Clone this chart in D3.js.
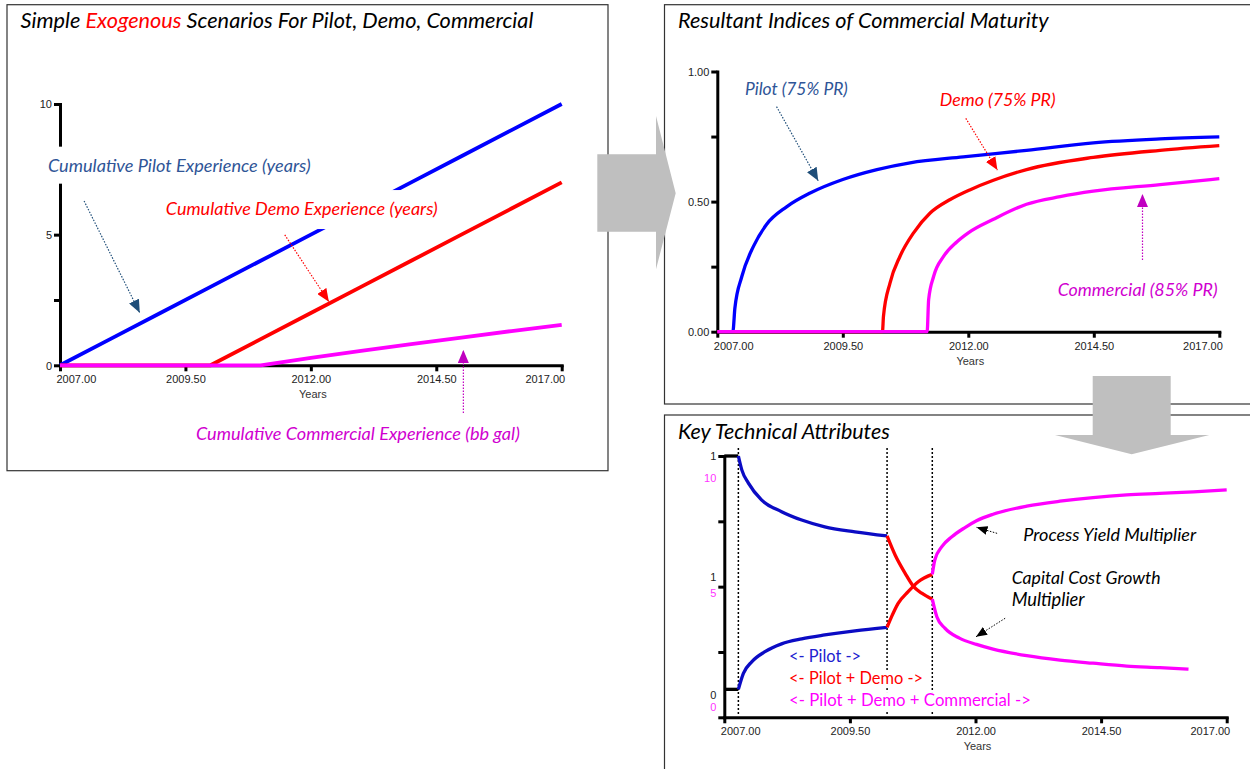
<!DOCTYPE html>
<html><head><meta charset="utf-8">
<script src="https://cdn.jsdelivr.net/npm/d3@7/dist/d3.min.js"></script>
<style>body{margin:0;background:#fff}svg{display:block}</style>
</head><body>
<svg id="c" width="1250" height="769"></svg>
<script>
// ================= DATA =================
const xTicks = [2007, 2009.5, 2012, 2014.5, 2017];
const xTickLabels = ["2007.00", "2009.50", "2012.00", "2014.50", "2017.00"];
const xAxisTitle = "Years";

// Panel 1: cumulative experience
const p1PilotYears = [2007, 2008, 2009, 2010, 2011, 2012, 2013, 2014, 2015, 2016, 2017];
const p1PilotVals  = [0, 1, 2, 3, 4, 5, 6, 7, 8, 9, 10];
const p1DemoYears  = [2007, 2010, 2011, 2012, 2013, 2014, 2015, 2016, 2017];
const p1DemoVals   = [0, 0, 1, 2, 3, 4, 5, 6, 7];
const p1CommYears  = [2007, 2011, 2012, 2013, 2014, 2015, 2016, 2017];
const p1CommVals   = [0, 0, 0.28, 0.55, 0.81, 1.06, 1.31, 1.55];
const p1YTicks = [0, 2.5, 5, 7.5, 10];
const p1YTickLabels = ["0", "", "5", "", "10"];

// Panel 2: maturity indices
const p2PilotYears = [2007, 2007.31, 2007.35, 2007.49, 2007.72, 2007.98, 2008.38, 2008.85, 2009.5, 2010.18, 2010.84, 2011.9, 2013.16, 2014.49, 2015.82, 2017];
const p2PilotVals  = [0, 0, 0.09, 0.213, 0.328, 0.412, 0.48, 0.533, 0.585, 0.623, 0.649, 0.672, 0.697, 0.726, 0.741, 0.749];
const p2DemoYears  = [2007, 2010.29, 2010.31, 2010.44, 2010.64, 2010.91, 2011.24, 2011.64, 2012.04, 2012.5, 2013.16, 2014.49, 2015.82, 2017];
const p2DemoVals   = [0, 0, 0.059, 0.187, 0.29, 0.38, 0.456, 0.508, 0.546, 0.582, 0.623, 0.67, 0.697, 0.715];
const p2CommYears  = [2007, 2011.18, 2011.21, 2011.31, 2011.51, 2011.77, 2012.0, 2012.5, 2013.16, 2013.83, 2014.49, 2015.82, 2017];
const p2CommVals   = [0, 0, 0.123, 0.213, 0.29, 0.345, 0.38, 0.432, 0.49, 0.519, 0.54, 0.565, 0.588];
const p2YTicks = [0, 0.25, 0.5, 0.75, 1];
const p2YTickLabels = ["0.00", "", "0.50", "", "1.00"];

// Panel 3: key technical attributes (normalised display units)
const p3CapYears = [2007, 2007.28, 2007.35, 2007.48, 2007.74, 2008.14, 2008.54, 2009.0, 2009.6, 2010.24, 2010.40, 2010.60, 2010.76, 2010.93, 2011.14, 2011.23, 2011.39, 2011.68, 2012.02, 2012.35, 2013.02, 2013.68, 2014.34, 2015.01, 2015.67, 2016.24];
const p3CapVals  = [1.0, 1.0, 0.946, 0.896, 0.832, 0.787, 0.755, 0.729, 0.710, 0.694, 0.621, 0.551, 0.502, 0.475, 0.452, 0.385, 0.341, 0.303, 0.279, 0.261, 0.236, 0.219, 0.207, 0.196, 0.190, 0.184];
const p3YieldYears = [2007, 2007.28, 2007.38, 2007.55, 2007.81, 2008.14, 2008.54, 2009.0, 2009.6, 2010.24, 2010.33, 2010.46, 2010.66, 2010.86, 2011.14, 2011.19, 2011.33, 2011.53, 2011.79, 2012.02, 2012.35, 2013.02, 2013.68, 2014.34, 2015.01, 2015.67, 2016.34, 2017];
const p3YieldVals  = [0.107, 0.107, 0.168, 0.213, 0.251, 0.281, 0.300, 0.315, 0.331, 0.344, 0.385, 0.436, 0.481, 0.519, 0.547, 0.602, 0.653, 0.691, 0.726, 0.752, 0.777, 0.808, 0.827, 0.841, 0.851, 0.857, 0.863, 0.870];
const p3PhaseStarts = [2007.28, 2010.24, 2011.14];
const p3YTicks = [0, 0.25, 0.5, 0.75, 1];
const p3BlackLabels = ["1", "1", "0"];
const p3BlackLabelVals = [1.0, 0.537, 0.085];
const p3MagLabels = ["10", "5", "0"];
const p3MagLabelVals = [0.916, 0.476, 0.039];

const titles = ["Simple ", "Exogenous", " Scenarios For Pilot, Demo, Commercial"];
const title2 = "Resultant Indices of Commercial Maturity";
const title3 = "Key Technical Attributes";

// ================= DRAW =================
const svg = d3.select("#c");
const FONT = "Lato, 'Open Sans', sans-serif";
const TICKFONT = "Arial, 'Liberation Sans', sans-serif";
const zip = (a, b) => a.map((v, i) => [v, b[i]]);

// markers
const defs = svg.append("defs");
function marker(id, color, w, h) {
  defs.append("marker").attr("id", id).attr("markerUnits", "userSpaceOnUse")
    .attr("markerWidth", w).attr("markerHeight", h).attr("refX", w).attr("refY", h / 2)
    .attr("orient", "auto").attr("viewBox", `0 0 ${w} ${h}`)
    .append("path").attr("d", `M0,0L${w},${h/2}L0,${h}Z`).attr("fill", color);
}
marker("mPilot", "#1F4E79", 13, 11);
marker("mDemo", "#FF0000", 13, 11);
marker("mComm", "#C000C0", 13, 11);
marker("mBlk", "#000", 11, 9);

// panel frames
const frames = [[7, 4.7, 601, 466], [664.5, 4.7, 600, 399.3], [664.5, 415, 600, 400]];
svg.selectAll("rect.frame").data(frames).join("rect").attr("class", "frame")
  .attr("x", d => d[0]).attr("y", d => d[1]).attr("width", d => d[2]).attr("height", d => d[3])
  .attr("fill", "#fff").attr("stroke", "#333").attr("stroke-width", 1.2);

function fit(t, w) {
  const cur = t.node().getComputedTextLength();
  const fs = parseFloat(t.attr("font-size"));
  t.attr("font-size", fs * w / cur);
}

function axes(g, x, y, yTicks, yLabels) {
  const ax = g.append("g").attr("transform", `translate(0,${y.range()[0]})`)
    .call(d3.axisBottom(x).tickValues(xTicks).tickSizeInner(6).tickSizeOuter(0).tickFormat((d, i) => xTickLabels[i]));
  const ay = g.append("g").attr("transform", `translate(${x.range()[0]},0)`)
    .call(d3.axisLeft(y).tickValues(yTicks).tickSizeInner(6).tickSizeOuter(0).tickFormat((d, i) => yLabels ? yLabels[i] : ""));
  [ax, ay].forEach(a => {
    a.select(".domain").attr("stroke", "#000").attr("stroke-width", 3).attr("stroke-linecap", "square");
    a.selectAll(".tick line").attr("stroke", "#000").attr("stroke-width", 3);
  });
  const n = xTicks.length;
  ax.selectAll(".tick text").attr("y", 14).attr("dy", "0.35em")
    .attr("font-family", TICKFONT).attr("font-size", 11).attr("fill", "#222")
    .attr("text-anchor", (d, i) => i === 0 ? "start" : i === n - 1 ? "end" : "middle")
    .attr("dx", (d, i) => i === 0 ? -4 : i === n - 1 ? 3 : 0);
  ay.selectAll(".tick text").attr("x", -8).attr("dy", "0.35em")
    .attr("font-family", TICKFONT).attr("font-size", 11).attr("fill", "#222");
  g.append("text").attr("x", (x.range()[0] + x.range()[1]) / 2 + 2).attr("y", y.range()[0] + 29)
    .attr("dy", "0.35em").attr("text-anchor", "middle").attr("font-family", TICKFONT)
    .attr("font-size", 11).attr("fill", "#333").text(xAxisTitle);
}

function label(g, txt, px, cy, w, color, italic, box) {
  const t = g.append("text").attr("x", px).attr("y", cy).attr("dy", "0.35em")
    .attr("font-family", FONT).attr("font-size", 16).attr("fill", color)
    .attr("font-style", italic ? "italic" : "normal").text(txt);
  fit(t, w);
  if (box) {
    g.insert("rect", () => t.node()).attr("x", px - box[0]).attr("y", cy - box[1])
      .attr("width", w + 2 * box[0]).attr("height", box[1] + box[2]).attr("fill", "#fff");
  }
  return t;
}
function arrow(g, x, y, a, color, mk, w) {
  g.append("line").attr("x1", x(a[0])).attr("y1", y(a[1])).attr("x2", x(a[2])).attr("y2", y(a[3]))
    .attr("stroke", color).attr("stroke-width", w || 1.2).attr("stroke-dasharray", "1.5,1.5")
    .attr("marker-end", `url(#${mk})`);
}

// ---------- Panel 1 ----------
{
  const g = svg.append("g");
  const x = d3.scaleLinear().domain([2007, 2017]).range([60, 561.7]);
  const y = d3.scaleLinear().domain([0, 10]).range([365.3, 104]);
  axes(g, x, y, p1YTicks, p1YTickLabels);
  const line = d3.line().x(d => x(d[0])).y(d => y(d[1]));
  [[p1PilotYears, p1PilotVals, "#0000FF"], [p1DemoYears, p1DemoVals, "#FF0000"], [p1CommYears, p1CommVals, "#FF00FF"]]
    .forEach(s => g.append("path").attr("d", line(zip(s[0], s[1]))).attr("fill", "none")
      .attr("stroke", s[2]).attr("stroke-width", 3.8).attr("stroke-linejoin", "round"));
  // annotations (data coordinates)
  label(g, "Cumulative Pilot Experience (years)", x(2006.76), y(7.64), 263, "#2F5597", true, [8, 19, 18]);
  label(g, "Cumulative Demo Experience (years)", x(2009.11), y(5.98), 272, "#FF0000", true, [8, 19, 20]);
  label(g, "Cumulative Commercial Experience (bb gal)", x(2009.71), y(-2.63), 324, "#D000D0", true, null);
  arrow(g, x, y, [2007.48, 6.29, 2008.59, 2.01], "#1F4E79", "mPilot");
  arrow(g, x, y, [2011.48, 4.99, 2012.36, 2.43], "#FF0000", "mDemo");
  arrow(g, x, y, [2015.04, -1.83, 2015.04, 0.59], "#C000C0", "mComm");
  // title
  const t = g.append("text").attr("x", 20.5).attr("y", 20).attr("dy", "0.35em")
    .attr("font-family", FONT).attr("font-style", "italic").attr("font-size", 20);
  t.selectAll("tspan").data(titles).join("tspan").attr("fill", (d, i) => i === 1 ? "#FF0000" : "#000").text(d => d);
  fit(t, 513);
}

// ---------- Panel 2 ----------
{
  const g = svg.append("g");
  const x = d3.scaleLinear().domain([2007, 2017]).range([717.3, 1219.3]);
  const y = d3.scaleLinear().domain([0, 1]).range([331.7, 71.5]);
  axes(g, x, y, p2YTicks, p2YTickLabels);
  const line = d3.line().x(d => x(d[0])).y(d => y(d[1])).curve(d3.curveMonotoneX);
  [[p2PilotYears, p2PilotVals, "#0000FF"], [p2DemoYears, p2DemoVals, "#FF0000"], [p2CommYears, p2CommVals, "#FF00FF"]]
    .forEach(s => g.append("path").attr("d", line(zip(s[0], s[1]))).attr("fill", "none")
      .attr("stroke", s[2]).attr("stroke-width", 3.3).attr("stroke-linejoin", "round"));
  label(g, "Pilot (75% PR)", x(2007.55), y(0.932), 103, "#2F5597", true, null);
  label(g, "Demo (75% PR)", x(2011.43), y(0.89), 116, "#FF0000", true, null);
  label(g, "Commercial (85% PR)", x(2013.78), y(0.163), 160, "#D000D0", true, null);
  arrow(g, x, y, [2008.18, 0.865, 2009.01, 0.58], "#1F4E79", "mPilot");
  arrow(g, x, y, [2011.95, 0.82, 2012.58, 0.621], "#FF0000", "mDemo");
  arrow(g, x, y, [2015.47, 0.276, 2015.47, 0.529], "#C000C0", "mComm");
  const t = g.append("text").attr("x", 678).attr("y", 20).attr("dy", "0.35em")
    .attr("font-family", FONT).attr("font-style", "italic").attr("font-size", 20).text(title2);
  fit(t, 371);
}

// ---------- Panel 3 ----------
{
  const g = svg.append("g");
  const x = d3.scaleLinear().domain([2007, 2017]).range([724.3, 1226.7]);
  const y = d3.scaleLinear().domain([0, 1]).range([717.3, 456]);
  axes(g, x, y, p3YTicks, null);
  g.selectAll("text.lb").data(p3BlackLabels).join("text").attr("class", "lb")
    .attr("x", x(2007) - 8).attr("y", (d, i) => y(p3BlackLabelVals[i])).attr("dy", "0.35em")
    .attr("text-anchor", "end").attr("font-family", TICKFONT).attr("font-size", 11).attr("fill", "#222").text(d => d);
  g.selectAll("text.lm").data(p3MagLabels).join("text").attr("class", "lm")
    .attr("x", x(2007) - 8).attr("y", (d, i) => y(p3MagLabelVals[i])).attr("dy", "0.35em")
    .attr("text-anchor", "end").attr("font-family", TICKFONT).attr("font-size", 11).attr("fill", "#FF33FF").text(d => d);
  // phase boundary dotted lines
  g.selectAll("line.ph").data(p3PhaseStarts).join("line").attr("class", "ph")
    .attr("x1", d => x(d)).attr("x2", d => x(d)).attr("y1", 448).attr("y2", y(0) - 2)
    .attr("stroke", "#000").attr("stroke-width", 1.5).attr("stroke-dasharray", "2,2");
  const bounds = [2007, ...p3PhaseStarts, 2017];
  const colors = ["#000000", "#0B0BC4", "#FF0000", "#FF00FF"];
  const line = d3.line().x(d => x(d[0])).y(d => y(d[1])).curve(d3.curveMonotoneX);
  [[p3CapYears, p3CapVals], [p3YieldYears, p3YieldVals]].forEach(s => {
    const pts = zip(s[0], s[1]);
    for (let k = 0; k < 4; k++) {
      const seg = pts.filter(p => p[0] >= bounds[k] && p[0] <= bounds[k + 1]);
      if (seg.length > 1) g.append("path").attr("d", line(seg)).attr("fill", "none")
        .attr("stroke", colors[k]).attr("stroke-width", 3.3).attr("stroke-linejoin", "round");
    }
  });
  label(g, "<- Pilot ->", x(2008.29), y(0.232), 72, "#2020D0", false, [8, 8, 10]);
  label(g, "<- Pilot + Demo ->", x(2008.29), y(0.15), 134, "#FF0000", false, [8, 8, 10]);
  label(g, "<- Pilot + Demo + Commercial ->", x(2008.29), y(0.066), 242, "#FF00FF", false, [8, 8, 10]);
  label(g, "Process Yield Multiplier", x(2012.95), y(0.70), 173, "#000", true, null);
  label(g, "Capital Cost Growth", x(2012.72), y(0.534), 149, "#000", true, null);
  label(g, "Multiplier", x(2012.72), y(0.449), 73, "#000", true, null);
  arrow(g, x, y, [2012.43, 0.704, 2012.02, 0.727], "#000", "mBlk", 1);
  arrow(g, x, y, [2012.59, 0.379, 2012.01, 0.308], "#000", "mBlk", 1);
  const t = g.append("text").attr("x", 678).attr("y", 431.7).attr("dy", "0.35em")
    .attr("font-family", FONT).attr("font-style", "italic").attr("font-size", 20).text(title3);
  fit(t, 212);
}

// ---------- block arrows ----------
const blockArrows = [
  [[597.3,154.3],[656,154.3],[656,116],[675.7,193.3],[656,269.3],[656,231.7],[597.3,231.7]],
  [[1092.7,376],[1170.7,376],[1170.7,435],[1209.3,435],[1131.7,454.3],[1055,435],[1092.7,435]]
];
svg.selectAll("polygon.blk").data(blockArrows).join("polygon").attr("class", "blk")
  .attr("points", d => d.map(p => p.join(",")).join(" ")).attr("fill", "#BFBFBF");
</script>
</body></html>
